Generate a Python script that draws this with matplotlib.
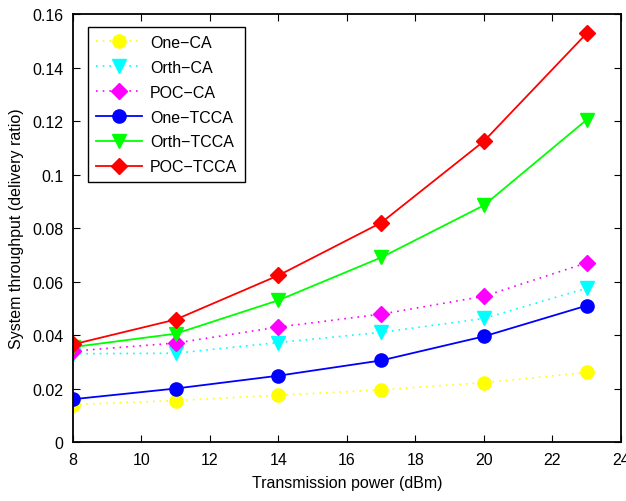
import numpy as np
import matplotlib.pyplot as plt

plt.rcParams['font.family'] = ['Liberation Sans', 'DejaVu Sans']

# transmission power (dBm)
power = [8, 11, 14, 17, 20, 23]

one_ca = [0.0140, 0.0155, 0.0175, 0.0195, 0.0222, 0.0260]
orth_ca = [0.0330, 0.0332, 0.0372, 0.0410, 0.0462, 0.0575]
poc_ca = [0.0340, 0.0370, 0.0430, 0.0478, 0.0545, 0.0670]
one_tcca = [0.0160, 0.0200, 0.0248, 0.0305, 0.0395, 0.0510]
orth_tcca = [0.0355, 0.0405, 0.0530, 0.0690, 0.0885, 0.1205]
poc_tcca = [0.0365, 0.0458, 0.0623, 0.0820, 0.1125, 0.1528]

labels = ['One\u2212CA', 'Orth\u2212CA', 'POC\u2212CA',
          'One\u2212TCCA', 'Orth\u2212TCCA', 'POC\u2212TCCA']

fig = plt.figure(figsize=(6.26, 5.02), dpi=100)
ax = fig.add_axes([0.1166, 0.1175, 0.8754, 0.8525])

dot = (0, (1, 3))
ax.plot(power, one_ca, linestyle=dot, color='#ffff00', marker='o', ms=9.5, mec='#ffff00', lw=1.2, label=labels[0])
ax.plot(power, orth_ca, linestyle=dot, color='#00ffff', marker='v', ms=10.5, mec='#00ffff', lw=1.2, label=labels[1])
ax.plot(power, poc_ca, linestyle=dot, color='#ff00ff', marker='D', ms=8, mec='#ff00ff', lw=1.2, label=labels[2])
ax.plot(power, one_tcca, '-', color='#0000ff', marker='o', ms=9.5, mec='#0000ff', lw=1.3, label=labels[3])
ax.plot(power, orth_tcca, '-', color='#00ff00', marker='v', ms=10.5, mec='#00ff00', lw=1.3, label=labels[4])
ax.plot(power, poc_tcca, '-', color='#ff0000', marker='D', ms=8, mec='#ff0000', lw=1.3, label=labels[5])

ax.set_xlim(8, 24)
ax.set_ylim(0, 0.16)
ax.set_xticks(np.arange(8, 25, 2))
ax.set_yticks(np.arange(0, 0.161, 0.02))
ax.set_yticklabels(['0', '0.02', '0.04', '0.06', '0.08', '0.1', '0.12', '0.14', '0.16'])
ax.tick_params(direction='in', top=True, right=True, labelsize=11.5, length=5, width=0.8, pad=7)
for s in ax.spines.values():
    s.set_linewidth(1.3)

ax.set_xlabel('Transmission power (dBm)', fontsize=11.5, labelpad=6)
ax.set_ylabel('System throughput (delivery ratio)', fontsize=11.5, labelpad=6)

leg = ax.legend(loc='upper left', bbox_to_anchor=(0.027, 0.97), fontsize=11.5,
                fancybox=False, edgecolor='black', framealpha=1, handlelength=2.9,
                handletextpad=0.5, borderpad=0.5, labelspacing=0.62, borderaxespad=0)
leg.get_frame().set_linewidth(1.0)

fig.savefig('out.png', dpi=100)
